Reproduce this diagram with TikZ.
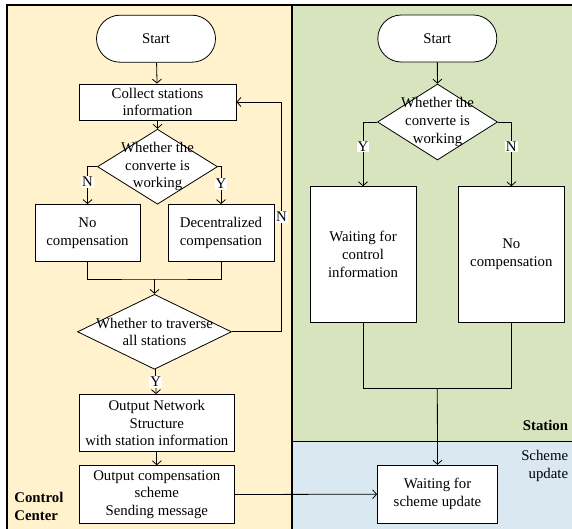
\documentclass[tikz,border=0pt]{standalone}
\usepackage{fontspec}
\setmainfont{Liberation Serif}
\usetikzlibrary{shapes.geometric,shapes.misc,arrows.meta}

\definecolor{ccfill}{HTML}{FFF2CC}
\definecolor{stfill}{HTML}{D7E4BD}
\definecolor{upfill}{HTML}{DAE9F1}

\begin{document}
\begin{tikzpicture}[x=1pt,y=-1pt,
    every node/.style={font=\fontsize{14.8}{17.7}\selectfont, align=center, inner sep=0pt},
    term/.style={draw, rounded rectangle, fill=white, minimum width=119, minimum height=47},
    box/.style={draw, rectangle, fill=white},
    decision/.style={draw, diamond, fill=white},
    lab/.style={fill=white, inner sep=1pt},
    arr/.style={-{Straight Barb[length=4pt,width=9pt]}},
    line width=0.8pt]
    \useasboundingbox (0,0) rectangle (572,529);
    \fill [ccfill] (7,5) rectangle (292,529);
    \fill [stfill] (292,5) rectangle (572,441.7);
    \fill [upfill] (292,441.7) rectangle (572,529);
    \draw [line width=1.2pt] (7,529) -- (7,5) -- (572,5);
    \draw [line width=1.2pt] (292,5) -- (292,529);
    \draw [line width=1.2pt] (292,441.7) -- (572,441.7);
    \node [font=\fontsize{14.8}{17.7}\selectfont\bfseries, align=left, anchor=west] (cc) at (14,506.7) {Control\\Center};
    \node [font=\fontsize{14.8}{17.7}\selectfont\bfseries, anchor=east] (st) at (568.5,425) {Station};
    \node [align=right, anchor=east] (su) at (568.5,466) {Scheme\\update};
    % control center
    \node [term] (s1) at (156,38.7) {Start};
    \node [box, minimum width=157, minimum height=36] (c1) at (157.5,102) {Collect stations\\information};
    \node [decision, minimum width=120, minimum height=75] (d1) at (157.5,166.7) {};
    \node at (d1) {Whether the\\converte is\\working};
    \node [box, minimum width=105, minimum height=57] (nc1) at (87.5,233) {No\\compensation};
    \node [box, minimum width=106, minimum height=57] (dc) at (221,233) {Decentralized\\compensation};
    \node [decision, minimum width=154, minimum height=75] (d2) at (154.5,331.8) {};
    \node at (d2) {Whether to traverse\\all stations};
    \node [box, minimum width=155, minimum height=57] (on1) at (156.8,423) {Output Network\\Structure\\with station information};
    \node [box, minimum width=155, minimum height=57.6] (oc1) at (156.8,494.5) {Output compensation\\scheme\\Sending message};
    \coordinate (m1) at (154.5,279);
    \draw [arr] (s1) -- (c1);
    \draw [arr] (c1) -- (d1);
    \draw [arr] (d1.west) -| node [lab, pos=0.7] {N} (nc1.north);
    \draw [arr] (d1.east) -| node [lab, pos=0.73] {Y} (dc.north);
    \draw (nc1.south) |- (m1) -| (dc.south);
    \draw [arr] (m1) -- (d2.north);
    \draw [arr] (d2.east) -- ++(49.5,0) |- node [lab, pos=0.25] {N} (c1.east);
    \draw [arr] (d2) -- node [lab] {Y} (on1);
    \draw [arr] (on1) -- (oc1);
    % station
    \node [term] (s2) at (437.3,38.5) {Start};
    \node [decision, minimum width=120, minimum height=76] (d3) at (437.5,122) {};
    \node at (d3) {Whether the\\converte is\\working};
    \node [box, minimum width=106, minimum height=135.6] (wc) at (363,254.5) {Waiting for\\control\\information};
    \node [box, minimum width=106, minimum height=135.6] (nc2) at (511.3,254.5) {No\\compensation};
    \node [box, minimum width=120, minimum height=58] (wu) at (437.5,494.2) {Waiting for\\scheme update};
    \coordinate (m2) at (437.3,388.3);
    \draw [arr] (s2) -- (d3);
    \draw [arr] (d3.west) -| node [lab, pos=0.69] {Y} (wc.north);
    \draw [arr] (d3.east) -| node [lab, pos=0.69] {N} (nc2.north);
    \draw (wc.south) |- (m2) -| (nc2.south);
    \draw [arr] (m2) -- (wu.north);
    \draw [arr] (oc1.east) -- (wu.west);
\end{tikzpicture}
\end{document}
